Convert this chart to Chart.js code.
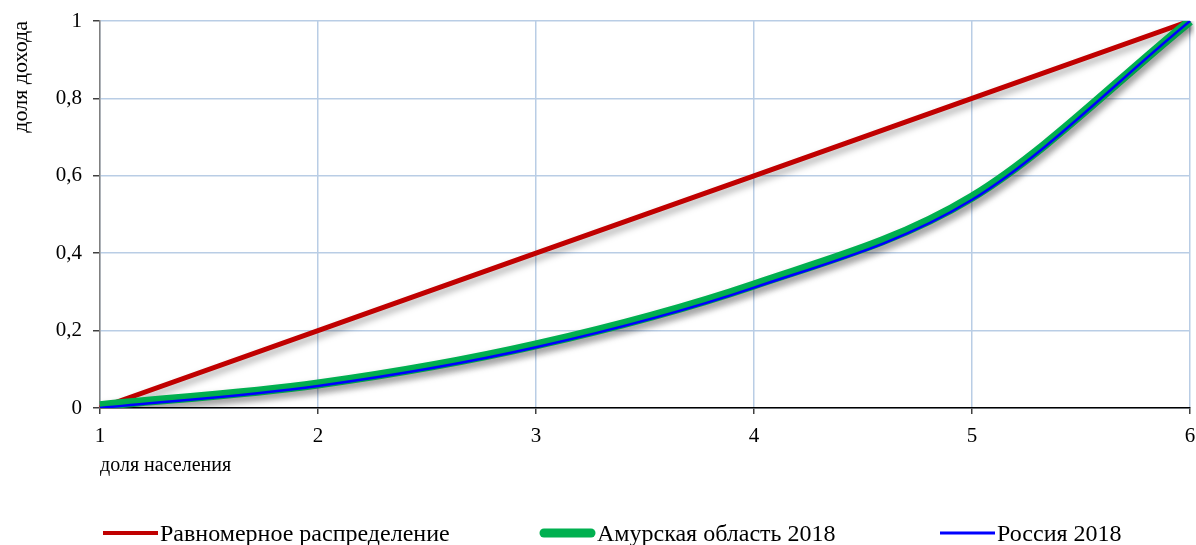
<!DOCTYPE html>
<html>
<head>
<meta charset="utf-8">
<script src="https://cdn.jsdelivr.net/npm/chart.js@4"></script>
<style>
  html, body { margin: 0; padding: 0; background: #fff; }
  #wrap { width: 1196px; height: 545px; }
</style>
</head>
<body>
<div id="wrap"><canvas id="chartLorenz"></canvas></div>
<script>
const kategorii = ['1', '2', '3', '4', '5', '6'];
const ravnomernoe = [0, 0.2, 0.4, 0.6, 0.8, 1];
const amurskaya = [0.006, 0.062, 0.163, 0.318, 0.545, 1];
const rossiya = [0.0, 0.057, 0.157, 0.311, 0.538, 1];

// тень под линиями, как в Excel
const shadowPlugin = {
  id: 'shadow',
  beforeDatasetDraw(chart) {
    const c = chart.ctx;
    c.save();
    c.shadowColor = 'rgba(0,0,0,0.35)';
    c.shadowBlur = 7;
    c.shadowOffsetX = 3;
    c.shadowOffsetY = 4;
  },
  afterDatasetDraw(chart) {
    chart.ctx.restore();
  }
};

// легенда внизу, рисуем сами
const legendX = [103, 540, 940];
const legendPlugin = {
  id: 'nizLegenda',
  afterDraw(chart) {
    const c = chart.ctx;
    const y = 533;
    c.save();
    chart.data.datasets.forEach((ds, i) => {
      const x = legendX[i];
      c.beginPath();
      c.strokeStyle = ds.borderColor;
      c.lineWidth = i === 1 ? 9 : (i === 0 ? 4 : 3);
      c.lineCap = i === 1 ? 'round' : 'butt';
      const inset = i === 1 ? 4 : 0;
      c.moveTo(x + inset, y);
      c.lineTo(x + 55 - inset, y);
      c.stroke();
      c.fillStyle = '#000';
      c.font = '24px "Liberation Serif"';
      c.textBaseline = 'middle';
      c.fillText(ds.label, x + 57, y + 2);
    });
    c.restore();
  }
};

const ctx = document.getElementById('chartLorenz');

new Chart(ctx, {
  type: 'line',
  data: {
    labels: kategorii,
    datasets: [{
      label: 'Равномерное распределение',
      data: ravnomernoe,
      borderColor: '#c00000',
      backgroundColor: '#c00000',
      borderWidth: 5,
      pointRadius: 0,
      tension: 0,
      order: 2
    }, {
      label: 'Амурская область 2018',
      data: amurskaya,
      borderColor: '#00b050',
      backgroundColor: '#00b050',
      borderWidth: 9,
      pointRadius: 0,
      cubicInterpolationMode: 'monotone',
      order: 1
    }, {
      label: 'Россия 2018',
      data: rossiya,
      borderColor: '#0000ff',
      backgroundColor: '#0000ff',
      borderWidth: 2.5,
      pointRadius: 0,
      cubicInterpolationMode: 'monotone',
      order: 0
    }]
  },
  options: {
    responsive: true,
    maintainAspectRatio: false,
    animation: false,
    layout: { padding: { top: 21, right: 0, bottom: 67, left: 8 } },
    plugins: {
      tooltip: { enabled: false },
      legend: { display: false }
    },
    scales: {
      x: {
        offset: false,
        grid: { color: '#b9cde5', lineWidth: 1.5, drawTicks: true, tickLength: 6, tickColor: '#404040' },
        border: { color: '#000', width: 1.5 },
        ticks: { font: { family: 'Liberation Serif', size: 21 }, color: '#000', padding: 10, maxRotation: 0 },
        title: {
          display: true,
          text: 'доля населения',
          align: 'start',
          font: { family: 'Liberation Serif', size: 20 },
          color: '#000',
          padding: { top: 4, bottom: 0 }
        },
        afterFit(axis) {
          axis.height = 70;
          axis.paddingRight = 6;
        }
      },
      y: {
        min: 0,
        max: 1,
        grid: { color: '#b9cde5', lineWidth: 1.5, tickLength: 7, tickColor: '#404040' },
        border: { color: '#808080', width: 1.5 },
        ticks: {
          stepSize: 0.2,
          font: { family: 'Liberation Serif', size: 21 },
          color: '#000',
          padding: 11,
          callback: v => String(Math.round(v * 10) / 10).replace('.', ',')
        },
        title: {
          display: true,
          text: 'доля дохода',
          align: 'end',
          font: { family: 'Liberation Serif', size: 22 },
          color: '#000',
          padding: { top: 0, bottom: 0 }
        },
        afterFit(axis) {
          axis.width = 92;
          axis.paddingTop = 0;
          axis.paddingBottom = 0;
        }
      }
    }
  },
  plugins: [shadowPlugin, legendPlugin]
});
</script>
</body>
</html>
